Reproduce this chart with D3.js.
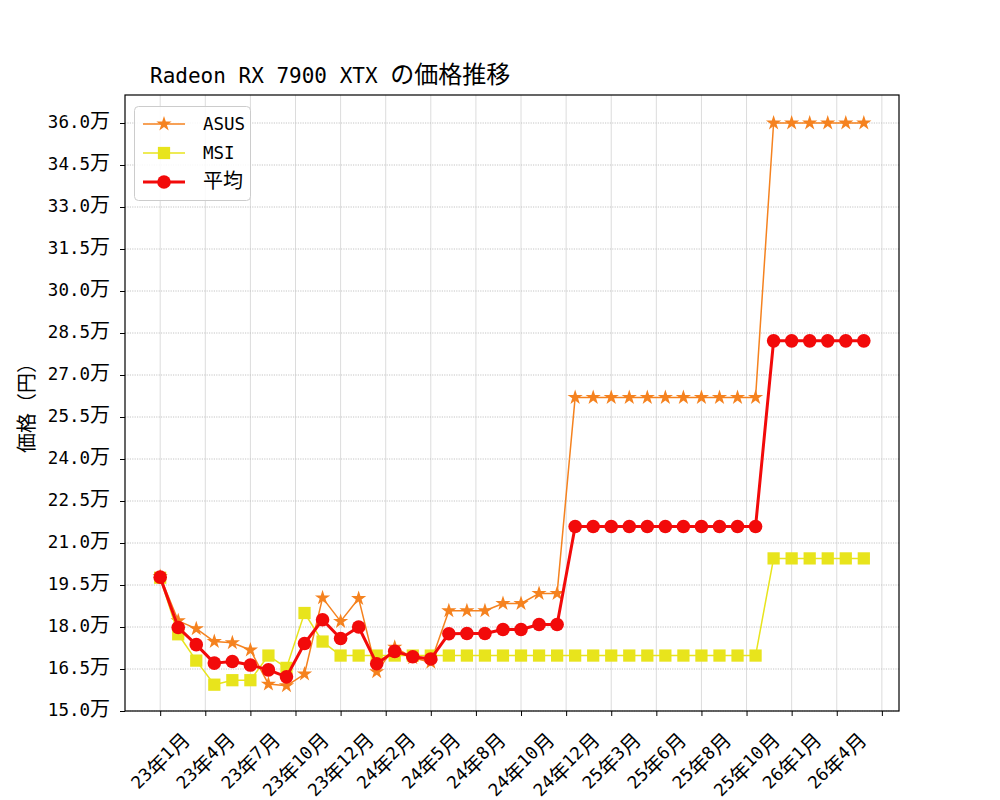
<!DOCTYPE html>
<html>
<head>
<meta charset="utf-8">
<script src="https://cdn.jsdelivr.net/npm/d3@7.9.0/dist/d3.min.js"></script>
<style>
  body { margin: 0; background: #fff; }
  text { white-space: pre; }
</style>
</head>
<body>
<svg id="chart" width="1000" height="800"></svg>
<script>
// --- data (円) ---
const asus = [198000, 182200, 179400, 174800, 174400, 171800, 159600, 159000, 163200, 190400,
  182000, 190200, 164000, 172800, 169000, 167400, 185800, 185800, 185800, 188400,
  188400, 192000, 192000, 262000, 262000, 262000, 262000, 262000, 262000, 262000,
  262000, 262000, 262000, 262000, 360000, 360000, 360000, 360000, 360000, 360000];
const msi = [197600, 177400, 168000, 159400, 161000, 161000, 169800, 165400, 185000, 174800,
  169800, 169800, 169800, 169800, 169800, 169800, 169800, 169800, 169800, 169800,
  169800, 169800, 169800, 169800, 169800, 169800, 169800, 169800, 169800, 169800,
  169800, 169800, 169800, 169800, 204500, 204500, 204500, 204500, 204500, 204500];
const avg = [197800, 179800, 173700, 167100, 167700, 166400, 164700, 162200, 174100, 182600,
  175900, 180000, 166900, 171300, 169400, 168600, 177600, 177700, 177700, 179100,
  179100, 180900, 180900, 215900, 215900, 215900, 215900, 215900, 215900, 215900,
  215900, 215900, 215900, 215900, 282200, 282200, 282200, 282200, 282200, 282200];
const xTickPos = [0, 2.5, 5, 7.5, 10, 12.5, 15, 17.5, 20, 22.5, 25, 27.5, 30, 32.5, 35, 37.5, 40];
const xTickLabels = ['23年1月', '23年4月', '23年7月', '23年10月', '23年12月', '24年2月', '24年5月',
  '24年8月', '24年10月', '24年12月', '25年3月', '25年6月', '25年8月', '25年10月', '26年1月', '26年4月', ''];
const yTicks = d3.range(150000, 360001, 15000);

const MONO = '"DejaVu Sans Mono", monospace';
const CJK = '"Noto Sans CJK JP", sans-serif';

const plotL = 125, plotR = 899, plotT = 95, plotB = 711;
const svg = d3.select('#chart');

const x = d3.scaleLinear().domain([-1.95, 40.95]).range([plotL, plotR]);
const y = d3.scaleLinear().domain([150000, 370000]).range([plotB, plotT]);

// split latin / japanese runs so the latin part stays monospace
function mixText(sel, str, latinSize, cjkSize) {
  const re = /[\u3000-\u9fff\uff00-\uffef]+|[^\u3000-\u9fff\uff00-\uffef]+/g;
  const parts = str.match(re) || [];
  sel.text(null);
  parts.forEach(p => {
    const isCjk = /[\u3000-\u9fff\uff00-\uffef]/.test(p);
    sel.append('tspan')
      .attr('font-family', isCjk ? CJK : MONO)
      .attr('font-size', isCjk ? cjkSize : latinSize)
      .text(p);
  });
}

// grid
svg.append('g').selectAll('line').data(xTickPos).join('line')
  .attr('x1', d => x(d)).attr('x2', d => x(d))
  .attr('y1', plotT).attr('y2', plotB)
  .attr('stroke', '#dcdcdc').attr('stroke-width', 1);
svg.append('g').selectAll('line').data(yTicks).join('line')
  .attr('x1', plotL).attr('x2', plotR)
  .attr('y1', d => y(d)).attr('y2', d => y(d))
  .attr('stroke', '#c4c4c4').attr('stroke-width', 1)
  .attr('stroke-dasharray', '1.2,1.2');

// axes
const xAxis = svg.append('g')
  .attr('transform', `translate(0,${plotB})`)
  .call(d3.axisBottom(x).tickValues(xTickPos).tickFormat((d, i) => xTickLabels[i]).tickSize(5).tickSizeOuter(0));
xAxis.select('.domain').remove();
xAxis.selectAll('.tick line').attr('stroke', '#000');
xAxis.selectAll('.tick text').each(function (d, i) {
  const t = d3.select(this);
  mixText(t, xTickLabels[i], 17.5, 20);
  const L = this.getComputedTextLength();
  const yc = 17 + (L + 20) * 0.354;
  t.attr('y', 0).attr('dy', null)
    .attr('fill', '#000')
    .attr('text-anchor', 'middle')
    .attr('dominant-baseline', 'central')
    .attr('transform', `translate(-1,${yc}) rotate(-45)`);
});

const yAxis = svg.append('g')
  .attr('transform', `translate(${plotL},0)`)
  .call(d3.axisLeft(y).tickValues(yTicks).tickSize(5).tickPadding(10)
    .tickFormat(d => (d / 10000).toFixed(1) + '万'));
yAxis.select('.domain').remove();
yAxis.selectAll('.tick line').attr('stroke', '#000');
yAxis.selectAll('.tick text').each(function (d) {
  const t = d3.select(this);
  mixText(t, (d / 10000).toFixed(1) + '万', 17.5, 20);
  t.attr('fill', '#000').attr('dy', '0.42em');
});

// frame
svg.append('rect')
  .attr('x', plotL).attr('y', plotT)
  .attr('width', plotR - plotL).attr('height', plotB - plotT)
  .attr('fill', 'none').attr('stroke', '#000').attr('stroke-width', 1.2);

// series
const series = [
  { name: 'ASUS', values: asus, color: '#f5821f', width: 1.5, marker: 'star' },
  { name: 'MSI', values: msi, color: '#e8e41c', width: 1.5, marker: 'square' },
  { name: '平均', values: avg, color: '#f20a0a', width: 3, marker: 'circle' }
];
const symbolFor = {
  star: d3.symbol(d3.symbolStar, 72),
  square: d3.symbol(d3.symbolSquare, 150),
  circle: d3.symbol(d3.symbolCircle, 145)
};
const line = d3.line().x((d, i) => x(i)).y(d => y(d));

series.forEach(s => {
  const g = svg.append('g');
  g.append('path')
    .attr('d', line(s.values))
    .attr('fill', 'none')
    .attr('stroke', s.color)
    .attr('stroke-width', s.width)
    .attr('stroke-linejoin', 'round');
  g.selectAll('path.mk').data(s.values).join('path')
    .attr('class', 'mk')
    .attr('d', symbolFor[s.marker])
    .attr('transform', (d, i) => `translate(${x(i)},${y(d)})`)
    .attr('fill', s.color);
});

// legend
const lg = svg.append('g');
lg.append('rect')
  .attr('x', 134.5).attr('y', 106.5).attr('width', 116).attr('height', 94)
  .attr('rx', 4)
  .attr('fill', '#fff').attr('fill-opacity', 0.85)
  .attr('stroke', '#cccccc').attr('stroke-width', 1);
series.forEach((s, i) => {
  const cy = 124 + i * 29;
  lg.append('line')
    .attr('x1', 143).attr('x2', 185).attr('y1', cy).attr('y2', cy)
    .attr('stroke', s.color).attr('stroke-width', s.width);
  lg.append('path')
    .attr('d', symbolFor[s.marker])
    .attr('transform', `translate(164,${cy})`)
    .attr('fill', s.color);
  const t = lg.append('text').attr('x', 203).attr('y', cy).attr('dy', '0.38em').attr('fill', '#000');
  mixText(t, s.name, 17.5, 20);
});

// title
const title = svg.append('text').attr('x', 150).attr('y', 83).attr('fill', '#000');
mixText(title, 'Radeon RX 7900 XTX の価格推移', 21, 24);

// y label
svg.append('text')
  .attr('transform', `translate(34,${(plotT + plotB) / 2}) rotate(-90)`)
  .attr('text-anchor', 'middle')
  .attr('font-family', CJK).attr('font-size', 20)
  .attr('fill', '#000')
  .text('価格（円）');
</script>
</body>
</html>
